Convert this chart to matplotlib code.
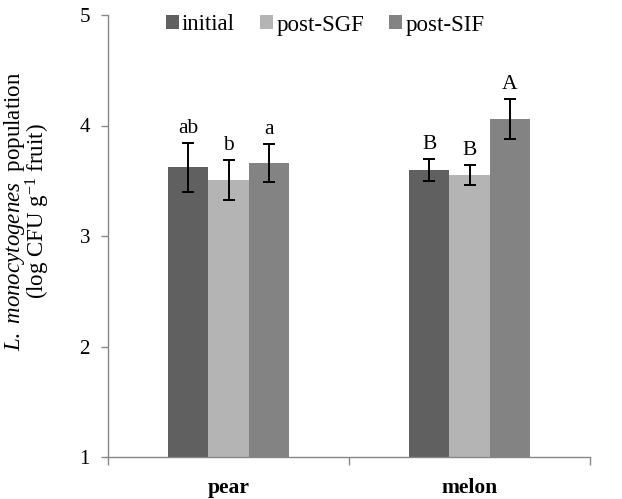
import matplotlib
matplotlib.use("Agg")
import matplotlib.pyplot as plt
import numpy as np

plt.rcParams["font.family"] = ["Liberation Serif", "DejaVu Serif"]
plt.rcParams["mathtext.fontset"] = "custom"
plt.rcParams["mathtext.rm"] = "Liberation Serif"
plt.rcParams["mathtext.it"] = "Liberation Serif:italic"
plt.rcParams["mathtext.bf"] = "Liberation Serif:bold"

# Data
fruits = ["pear", "melon"]
stages = ["initial", "post-SGF", "post-SIF"]
means = {
    "initial": [3.62, 3.60],
    "post-SGF": [3.51, 3.55],
    "post-SIF": [3.66, 4.06],
}
errors = {
    "initial": [0.22, 0.10],
    "post-SGF": [0.18, 0.09],
    "post-SIF": [0.17, 0.18],
}
letters = {
    "initial": ["ab", "B"],
    "post-SGF": ["b", "B"],
    "post-SIF": ["a", "A"],
}
colors = {"initial": "#606060", "post-SGF": "#b4b4b4", "post-SIF": "#838383"}

fig = plt.figure(figsize=(6.22, 4.99), dpi=100)
ax = fig.add_axes([108 / 622, 1 - 457 / 499, (590 - 108) / 622, (457 - 15) / 499])

centers = np.arange(len(fruits)) + 0.5
width = 0.166
offsets = [-width, 0.0, width]
axis_gray = "#878787"

for stage, off in zip(stages, offsets):
    x = centers + off
    vals = means[stage]
    errs = errors[stage]
    ax.bar(x, np.array(vals) - 1, bottom=1, width=width, color=colors[stage],
           label=stage, zorder=2)
    ax.errorbar(x, vals, yerr=errs, fmt="none", ecolor="black", elinewidth=1.4,
                capsize=4.6, capthick=1.4, zorder=3)
    for xi, v, e, t in zip(x, vals, errs, letters[stage]):
        ax.annotate(t, (xi, v + e), xytext=(0, 3.5), textcoords="offset points",
                    ha="center", va="bottom", fontsize=15.5)

ax.set_xlim(0, 2)
ax.set_ylim(1, 5)
ax.set_yticks([1, 2, 3, 4, 5])
ax.set_xticks([0, 1, 2])
ax.set_xticklabels([])
ax.set_xticks(centers, minor=True)
ax.set_xticklabels(fruits, minor=True, fontweight="bold", fontsize=15.5)
ax.tick_params(axis="x", which="minor", length=0, pad=15)
ax.tick_params(axis="x", which="major", length=6, width=1, color=axis_gray,
               direction="out")
ax.tick_params(axis="y", length=5, width=1, color=axis_gray, pad=8,
               labelsize=15, direction="out")

for side in ["top", "right"]:
    ax.spines[side].set_visible(False)
for side in ["left", "bottom"]:
    ax.spines[side].set_color(axis_gray)
    ax.spines[side].set_linewidth(1)

fig.text(27 / 622, 1 - 211 / 499,
         "$\\it{L.\\ monocytogenes}\\ $ population\n(log CFU g$^{-1}$ fruit)",
         rotation=90, ha="center", va="center", multialignment="center",
         fontsize=16.5, linespacing=0.85)

ax.legend(loc="center left", bbox_to_anchor=(166 / 622, 1 - 25 / 499),
          bbox_transform=fig.transFigure, ncol=3, frameon=False,
          fontsize=16.5, handlelength=0.57, handleheight=0.57,
          handletextpad=0.13, columnspacing=1.1, borderpad=0, borderaxespad=0)

fig.savefig("out.png", dpi=100)
